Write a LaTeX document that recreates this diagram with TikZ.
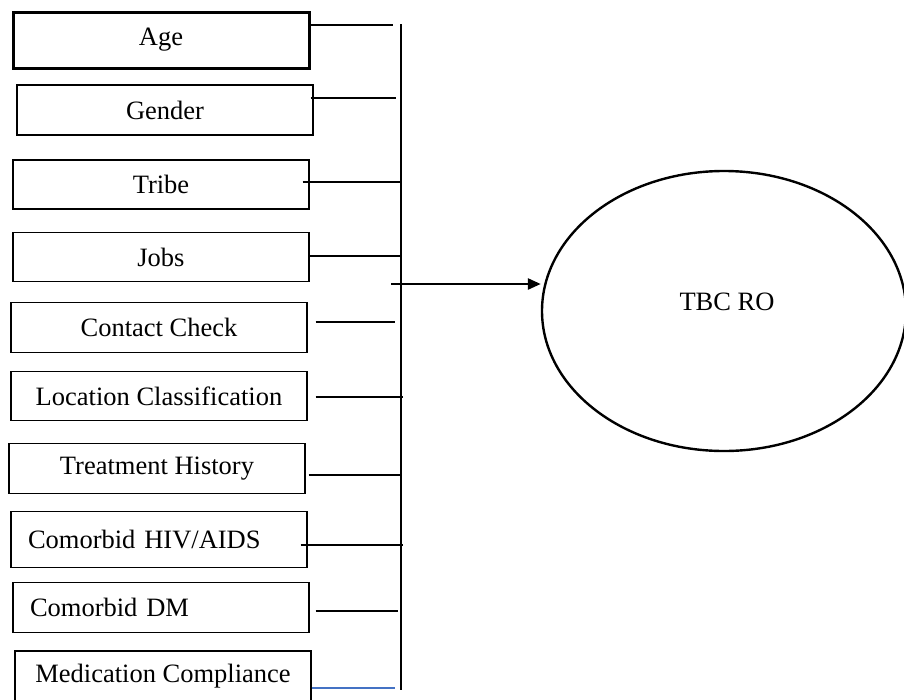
\documentclass[tikz,border=0pt]{standalone}
\usepackage{fontspec}
\setmainfont{Liberation Serif}
\usetikzlibrary{shapes.geometric,arrows.meta}
\definecolor{linkblue}{RGB}{68,114,196}
\begin{document}
\begin{tikzpicture}[x=1pt,y=-1pt,
  box/.style={draw, line width=1.4pt, minimum width=296pt, minimum height=50pt,
    inner sep=0pt, font=\fontsize{26.5}{30}\selectfont},
  leftbox/.style={box, text width=262pt, inner xsep=17pt, align=left},
  conn/.style={line width=1.1pt},
  bus/.style={line width=1.4pt},
  goal/.style={draw, ellipse, line width=2.4pt, minimum width=364pt, minimum height=280pt, inner sep=0pt},
  lbl/.style={font=\fontsize{26.5}{30}\selectfont}
]
\useasboundingbox (0,0) rectangle (904,699);

% boxes
\node[box, line width=3pt, minimum height=56pt] (age) at (161,40) {Age};
\node[box] (gender) at (165,110) {Gender};
\node[box, minimum height=49pt] (tribe) at (161,184.5) {Tribe};
\node[box, minimum height=49pt] (jobs) at (161,257) {Jobs};
\node[box] (contact) at (159,327.7) {Contact Check};
\node[box, minimum height=49.4pt] (location) at (159,396) {Location Classification};
\node[box] (treat) at (157,468.3) {Treatment History};
\node[leftbox, minimum height=56pt] (hiv) at (159,539.7) {Comorbid HIV/AIDS};
\node[leftbox, minimum height=49.6pt] (dm) at (161,607.5) {Comorbid DM};
\node[box] (med) at (163,676) {Medication Compliance};

% bus line
\coordinate (bustop) at (401,24);
\coordinate (busbot) at (401,690);
\draw[bus] (bustop) -- (busbot);

% connector ends on the bus side
\coordinate (b1) at (393,25);
\coordinate (b2) at (396,98);
\coordinate (b3) at (401,182);
\coordinate (b4) at (401,256);
\coordinate (b5) at (395,322);
\coordinate (b6) at (403,397);
\coordinate (b7) at (401,475);
\coordinate (b8) at (403,545);
\coordinate (b9) at (398,611);
\coordinate (b10) at (395,688);

\draw[conn] (age.east |- b1) -- (b1);
\draw[conn] ([xshift=-3pt]gender.east |- b2) -- (b2);
\draw[conn] ([xshift=-7pt]tribe.east |- b3) -- (b3);
\draw[conn] (jobs.east |- b4) -- (b4);
\draw[conn] ([xshift=8pt]contact.east |- b5) -- (b5);
\draw[conn] ([xshift=8pt]location.east |- b6) -- (b6);
\draw[conn] ([xshift=3pt]treat.east |- b7) -- (b7);
\draw[conn] ([xshift=-7pt]hiv.east |- b8) -- (b8);
\draw[conn] ([xshift=6pt]dm.east |- b9) -- (b9);
\draw[conn, draw=linkblue] (med.east |- b10) -- (b10);

% outcome
\node[goal] (tbc) at (724,311) {};
\node[lbl] (tbclabel) at (727,302) {TBC RO};
\coordinate (arrstart) at (391,284);
\draw[line width=2.6pt, -{Triangle[length=13pt,width=11pt]}] (arrstart) -- (arrstart -| tbc.west);
\end{tikzpicture}
\end{document}
